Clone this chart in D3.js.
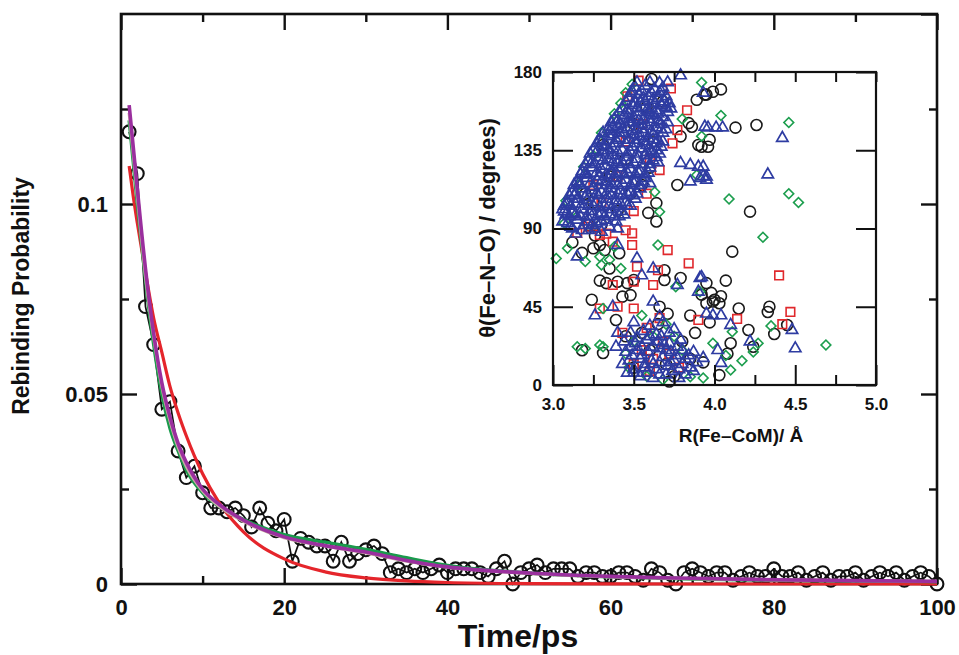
<!DOCTYPE html>
<html><head><meta charset="utf-8">
<script src="https://cdn.jsdelivr.net/npm/d3@7/dist/d3.min.js"></script>
<style>
body{margin:0;background:#fff}
svg{display:block}
text{font-family:"Liberation Sans",Arial,Helvetica,sans-serif;font-weight:bold;fill:#111}
</style></head>
<body><svg id="chart" width="959" height="655"></svg>
<script>
// ---------- main plot data ----------
const timePs = [1,2,3,4,5,6,7,8,9,10,11,12,13,14,15,16,17,18,19,20,21,22,23,24,25,26,27,28,29,30,31,32,33,34,35,36,37,38,39,40,41,42,43,44,45,46,47,48,49,50,51,52,53,54,55,56,57,58,59,60,61,62,63,64,65,66,67,68,69,70,71,72,73,74,75,76,77,78,79,80,81,82,83,84,85,86,87,88,89,90,91,92,93,94,95,96,97,98,99,100];
const rebinding = [0.119,0.108,0.073,0.063,0.046,0.048,0.035,0.028,0.031,0.024,0.020,0.020,0.019,0.020,0.018,0.015,0.020,0.016,0.014,0.017,0.006,0.012,0.011,0.010,0.010,0.006,0.011,0.006,0.008,0.009,0.010,0.008,0.003,0.004,0.003,0.004,0.003,0.004,0.005,0.003,0.004,0.004,0.004,0.003,0.002,0.004,0.006,0.000,0.003,0.004,0.005,0.003,0.004,0.004,0.004,0.002,0.003,0.003,0.002,0.002,0.003,0.003,0.002,0.001,0.004,0.003,0.001,0.000,0.003,0.004,0.003,0.002,0.003,0.003,0.001,0.002,0.003,0.002,0.002,0.004,0.002,0.002,0.003,0.001,0.002,0.003,0.001,0.002,0.002,0.003,0.001,0.002,0.003,0.002,0.003,0.001,0.002,0.003,0.002,0.000];
const fitT      = [1,1.5,2,3,4,5,6,7,8,10,12,15,20,25,30,35,40,50,60,70,80,90,100];
const fitRed    = [0.110,0.102,0.095,0.082,0.070,0.061,0.052,0.045,0.039,0.029,0.0215,0.0137,0.0066,0.0032,0.0016,0.0008,0.0004,0.0001,0.00003,0,0,0,0];
const fitGreen  = [0.122,0.111,0.100,0.080,0.063,0.050,0.041,0.035,0.030,0.0240,0.0205,0.0170,0.0130,0.0110,0.0091,0.0069,0.0049,0.0029,0.0019,0.0013,0.0010,0.0008,0.0006];
const fitTan    = [0.124,0.113,0.102,0.081,0.065,0.052,0.043,0.036,0.031,0.0245,0.0205,0.0165,0.0122,0.0100,0.0082,0.0060,0.0044,0.0028,0.0019,0.0014,0.0011,0.0009,0.0007];
const fitPurple = [0.126,0.115,0.104,0.083,0.066,0.053,0.044,0.037,0.032,0.0250,0.0210,0.0168,0.0124,0.0101,0.0084,0.0062,0.0045,0.0029,0.0020,0.0015,0.0011,0.0009,0.0007];
const xMajor = [0,20,40,60,80,100], xMinor = [10,30,50,70,90];
const yMajor = [0,0.05,0.1,0.15], yMinor = [0.025,0.075,0.125];

// ---------- inset data: [R(Fe-CoM) Å, θ(Fe-N-O) degrees] ----------
const blackCircles = [[4.04,170],[3.95,167],[3.99,168.6],[3.89,164],[3.94,167],[3.68,163],[3.61,176],[3.84,150.6],[3.86,148.5],[4.13,148],[4.26,149.5],[3.97,141],[3.92,137],[3.79,143],[3.90,138],[3.96,137],[3.77,115],[3.64,104.6],[3.64,94],[3.59,99],[4.22,99.7],[4.11,76.7],[3.31,138],
 [3.35,120],[3.45,130],[3.50,150],[3.25,105],[3.55,115],[3.40,100],[3.20,110],[3.60,125],[3.62,140],[3.58,160],[3.48,110],[3.30,92],
 [3.25,78.6],[3.29,80.5],[3.32,77.6],[3.22,92],[3.26,86],[3.41,75.8],[3.35,67],[3.69,66],[3.79,61.5],[3.69,60.4],[3.29,60],[3.33,58.6],[3.40,59.4],[3.46,58.6],[3.50,60.4],[3.24,49],[3.43,50.8],[3.48,51.7],[3.39,37.4],[3.66,45],[3.71,41],[3.95,47],[3.99,48],[4.07,60],[3.95,58.6],[4.00,49],[4.04,51],[4.03,47],[4.15,44],[4.34,45],[4.33,42],[4.45,34.5],[3.97,36],[4.21,31.6],[4.37,29.3],[4.24,22],[4.10,24],[4.08,18],[4.03,5.7],[3.93,13],[3.72,2],[3.31,18.4],[3.18,20],[3.12,82],[3.18,76],[3.92,52],[3.98,53],[3.85,40],
 [3.55,30],[3.60,20],[3.70,12],[3.80,25],[3.50,10],[3.65,35],[3.85,15],[3.75,5],[3.45,28],[3.88,30]];
const redSquares = [[3.53,175],[3.46,166],[3.73,170.5],[3.83,158],[3.74,139],[3.77,146.6],[3.66,123.6],[3.60,130],[3.55,150],[3.40,120],[3.30,105],[3.50,100],[3.25,115],[3.45,140],[3.58,110],
 [3.15,87.4],[3.22,91],[3.29,86.3],[3.33,87],[3.37,82.4],[3.45,89],[3.49,87.2],[3.49,80.5],[3.71,77.6],[3.84,70],[3.52,68],[3.65,66],[3.37,57.5],[3.50,59.4],[3.62,57.5],[3.29,44],[3.40,45],[3.50,44],[3.66,38.5],[3.90,37.4],[3.43,30],[3.58,32.8],[4.40,63],[4.47,42],[4.14,38],[4.42,35],
 [3.55,20],[3.62,15],[3.68,25],[3.50,12],[3.72,18],[3.60,8],[3.78,10]];
const greenDiamonds = [[3.49,173],[3.92,174],[3.80,153],[3.92,143],[3.89,120.8],[4.04,155],[4.46,151],[4.09,107],[4.46,110],[4.52,105],[4.30,85],[3.63,111],[3.66,99.6],[3.08,106],[3.16,115],[3.19,125.5],[3.38,156],[3.07,93],[3.12,100],[3.25,132],[3.30,145],[3.42,162],[3.45,168],
 [3.02,72.8],[3.09,78.6],[3.20,71],[3.29,73.8],[3.38,79.5],[3.35,72],[3.30,69],[3.65,80.5],[3.42,67],[3.76,56.5],[3.91,53.6],[3.31,44],[3.55,40],[3.62,28],[3.70,35],
 [4.11,30.6],[4.35,34],[4.69,23],[4.27,24],[4.24,19],[3.99,24],[4.07,17],[4.17,14],[4.10,8.6],[3.93,4],[3.85,4.8],
 [3.31,22],[3.29,23],[3.20,21],[3.15,22],[3.45,18],[3.50,25],[3.58,5],[3.68,3],[3.80,20],[3.75,28],[3.47,10]];
const blueTriangles = [[3.79,178],[3.66,173.6],[3.71,174],[3.93,168],[3.96,148],[4.01,148],[4.05,148],[3.94,148.5],[4.42,142],[3.93,125.5],[3.93,120],[3.95,118],[4.33,121],[3.79,127.6],[3.85,126.5],[3.90,125.5],[3.91,119],[3.85,117],[3.95,119.8],[3.37,148.5],[3.07,99.7],[3.06,94],
 [3.15,73.8],[3.40,80.5],[3.52,72.8],[3.62,67],[3.55,63],[3.91,61.5],[3.90,53.6],[3.77,57.5],[3.37,45],[3.26,40],[3.62,47.9],[3.66,39.3],[3.92,62],[3.95,41],[3.99,40],[4.04,40],[4.10,34.5],[4.48,31.6],[4.50,21],[4.22,25],[4.02,20],[4.04,12.6],[3.93,15.5],[3.39,22],[3.50,7],
 [3.51,171],[3.57,172],[3.63,170],[3.68,171],
 [3.47,165],[3.53,167],[3.59,166],[3.65,165],[3.70,166],
 [3.43,159],[3.49,161],[3.55,160],[3.61,159],[3.67,161],[3.73,159],
 [3.38,153],[3.44,155],[3.50,154],[3.56,153],[3.62,155],[3.68,154],
 [3.34,147],[3.40,149],[3.46,148],[3.52,147],[3.58,149],[3.64,148],[3.70,147],
 [3.29,141],[3.35,143],[3.41,142],[3.47,141],[3.53,143],[3.59,142],[3.65,141],
 [3.25,135],[3.31,137],[3.37,136],[3.43,135],[3.49,137],[3.55,136],[3.61,135],[3.67,137],
 [3.22,129],[3.28,131],[3.34,130],[3.40,129],[3.46,131],[3.52,130],[3.58,129],[3.64,131],
 [3.18,123],[3.24,125],[3.30,124],[3.36,123],[3.42,125],[3.48,124],[3.54,123],[3.60,125],
 [3.15,117],[3.21,119],[3.27,118],[3.33,117],[3.39,119],[3.45,118],[3.51,117],[3.57,119],
 [3.12,111],[3.18,113],[3.24,112],[3.30,111],[3.36,113],[3.42,112],[3.48,111],[3.54,113],
 [3.09,105],[3.15,107],[3.21,106],[3.27,105],[3.33,107],[3.39,106],[3.45,105],[3.51,107],
 [3.06,101],[3.12,99],[3.18,101],[3.24,100],[3.30,99],[3.36,101],[3.42,100],
 [3.09,93],[3.15,95],[3.21,94],[3.27,93],[3.33,95],[3.39,94],
 [3.14,87],[3.22,89],[3.30,88],[3.40,90],
 [3.54,163],[3.60,156],[3.47,151],[3.41,145],[3.56,145],[3.38,139],[3.52,139],[3.31,133],[3.46,133],[3.61,133],[3.26,127],[3.40,127],[3.55,127],[3.21,121],[3.36,121],[3.51,121],[3.17,115],[3.33,115],[3.48,115],[3.13,109],[3.28,109],[3.43,109],[3.11,103],[3.25,103],[3.39,103],[3.17,97],[3.32,97],
 [3.49,169],[3.55,169],[3.61,168],[3.67,169],
 [3.45,163],[3.51,162],[3.57,163],[3.63,162],[3.69,163],
 [3.41,157],[3.47,156],[3.53,157],[3.59,157],[3.65,156],[3.71,157],
 [3.36,151],[3.42,150],[3.49,151],[3.55,150],[3.61,151],[3.67,150],
 [3.31,145],[3.37,144],[3.44,145],[3.50,144],[3.62,144],[3.68,145],
 [3.27,139],[3.33,138],[3.45,139],[3.58,138],[3.64,139],
 [3.23,133],[3.37,132],[3.52,133],[3.57,132],[3.66,133],
 [3.20,127],[3.33,126],[3.47,127],[3.60,127],[3.65,128],
 [3.17,121],[3.29,120],[3.44,121],[3.57,121],
 [3.13,115],[3.25,114],[3.40,115],[3.54,115],[3.60,116],
 [3.10,109],[3.20,108],[3.36,109],[3.50,109],
 [3.07,103],[3.18,104],[3.32,103],[3.46,103],
 [3.10,97],[3.24,97],[3.38,97],[3.44,98],
 [3.11,91],[3.19,92],[3.26,90],[3.35,91],
 [3.52,174],[3.60,174],[3.66,168],
 [3.48,168],[3.56,165],[3.62,164],[3.72,162],
 [3.46,158],[3.52,159],[3.58,158],[3.64,158],[3.70,160],
 [3.40,152],[3.47,153],[3.53,152],[3.59,153],[3.65,152],[3.71,151],
 [3.35,146],[3.43,147],[3.49,146],[3.55,147],[3.61,146],[3.67,147],
 [3.30,140],[3.39,141],[3.50,141],[3.56,140],[3.62,141],[3.68,140],
 [3.27,134],[3.34,135],[3.40,134],[3.48,134],[3.58,134],[3.64,135],
 [3.24,128],[3.31,129],[3.37,128],[3.43,128],[3.50,128],[3.62,129],
 [3.20,122],[3.27,122],[3.33,121],[3.39,122],[3.46,122],[3.53,122],[3.59,122],
 [3.16,116],[3.23,116],[3.30,117],[3.36,116],[3.43,116],[3.50,116],[3.56,117],
 [3.14,110],[3.21,110],[3.27,110],[3.33,110],[3.40,110],[3.46,110],[3.52,110],
 [3.08,104],[3.14,104],[3.22,103],[3.29,102],[3.35,104],[3.42,104],[3.48,103],
 [3.08,98],[3.14,98],[3.21,97],[3.28,98],[3.35,98],[3.41,97],
 [3.12,90],[3.18,89],[3.24,92],[3.30,94],
 [3.48,30],[3.56,31],[3.64,29],[3.72,30],
 [3.44,25],[3.51,24],[3.58,26],[3.65,25],[3.72,24],[3.79,26],
 [3.45,19],[3.52,20],[3.59,19],[3.66,21],[3.73,19],[3.80,20],[3.87,19],
 [3.47,14],[3.54,15],[3.61,14],[3.68,16],[3.75,14],[3.82,15],[3.89,13],
 [3.50,9],[3.57,10],[3.64,9],[3.71,11],[3.78,9],[3.85,10],
 [3.54,5],[3.62,4],[3.70,6],[3.78,4],
 [3.55,22],[3.62,12],[3.69,23],[3.76,17],[3.60,34],[3.68,36],[3.50,36],[3.40,30],[3.43,12],
 [3.48,22],[3.55,17],[3.62,22],[3.70,20],[3.77,22],[3.84,17],[3.49,17],[3.57,12],[3.66,13],[3.73,13],[3.80,12],[3.87,8],[3.52,27],[3.60,28],[3.67,28],[3.75,32],[3.58,7],[3.66,6],[3.74,8],[3.82,6],[3.46,7]];
const insetXMajor = [3.0,3.5,4.0,4.5,5.0], insetXMinor = [3.25,3.75,4.25,4.75];
const insetYMajor = [0,45,90,135,180];

// ---------- drawing ----------
const svg = d3.select("#chart");
svg.append("rect").attr("width",959).attr("height",655).attr("fill","#fff");
const P = {l:121, r:937, t:14, b:584};
const x = d3.scaleLinear().domain([0,100]).range([P.l,P.r]);
const y = d3.scaleLinear().domain([0,0.15]).range([P.b,P.t]);

function styleAxis(g, fs, sw){
  g.select(".domain").remove();
  g.selectAll(".tick line").attr("stroke","#111").attr("stroke-width",sw||2.4);
  g.selectAll(".tick text").style("font-size",fs+"px").style("font-family",'"Liberation Sans",Arial,sans-serif').style("font-weight","bold").attr("fill","#111");
}
// bottom
svg.append("g").attr("transform",`translate(0,${P.b})`)
  .call(d3.axisBottom(x).tickValues(xMajor).tickSize(-16).tickPadding(15).tickFormat(d3.format("d"))).call(g=>styleAxis(g,22));
svg.append("g").attr("transform",`translate(0,${P.b})`)
  .call(d3.axisBottom(x).tickValues(xMinor).tickSize(-8).tickFormat("")).call(g=>styleAxis(g,22));
// top
svg.append("g").attr("transform",`translate(0,${P.t})`)
  .call(d3.axisTop(x).tickValues(xMajor).tickSize(-16).tickFormat("")).call(g=>styleAxis(g,22));
svg.append("g").attr("transform",`translate(0,${P.t})`)
  .call(d3.axisTop(x).tickValues(xMinor).tickSize(-8).tickFormat("")).call(g=>styleAxis(g,22));
// left
svg.append("g").attr("transform",`translate(${P.l},0)`)
  .call(d3.axisLeft(y).tickValues(yMajor.slice(0,3)).tickSize(-16).tickPadding(13).tickFormat(d=>String(d))).call(g=>styleAxis(g,22));
svg.append("g").attr("transform",`translate(${P.l},0)`)
  .call(d3.axisLeft(y).tickValues(yMinor).tickSize(-8).tickFormat("")).call(g=>styleAxis(g,22));
// right
svg.append("g").attr("transform",`translate(${P.r},0)`)
  .call(d3.axisRight(y).tickValues(yMajor).tickSize(-16).tickFormat("")).call(g=>styleAxis(g,22));
svg.append("g").attr("transform",`translate(${P.r},0)`)
  .call(d3.axisRight(y).tickValues(yMinor).tickSize(-8).tickFormat("")).call(g=>styleAxis(g,22));
// frame
svg.append("rect").attr("x",P.l).attr("y",P.t).attr("width",P.r-P.l).attr("height",P.b-P.t)
  .attr("fill","none").attr("stroke","#111").attr("stroke-width",2.6);

// data line + circles
const pts = timePs.map((t,i)=>[t,rebinding[i]]);
svg.append("path").datum(pts).attr("fill","none").attr("stroke","#111").attr("stroke-width",1.7)
  .attr("d",d3.line().x(d=>x(d[0])).y(d=>y(d[1])));
svg.append("g").selectAll("circle").data(pts).join("circle")
  .attr("cx",d=>x(d[0])).attr("cy",d=>y(d[1])).attr("r",6.4)
  .attr("fill","none").attr("stroke","#111").attr("stroke-width",2.1);

// fit curves
const fitLine = d3.line().x(d=>x(d[0])).y(d=>y(d[1])).curve(d3.curveMonotoneX);
[[fitRed,"#e5252b",3.2],[fitGreen,"#1a9a4c",3.4],[fitTan,"#c8aca4",3.2],[fitPurple,"#9a2f9e",3.6]].forEach(([vals,col,w])=>{
  svg.append("path").datum(fitT.map((t,i)=>[t,vals[i]])).attr("fill","none")
    .attr("stroke",col).attr("stroke-width",w).attr("d",fitLine);
});

// axis titles
svg.append("text").attr("x",518).attr("y",647).attr("text-anchor","middle").style("font-size","32px").text("Time/ps");
svg.append("text").attr("transform","translate(29,296) rotate(-90)").attr("text-anchor","middle").style("font-size","23px").text("Rebinding Probability");

// ---------- inset ----------
const I = {l:553, r:876, t:72, b:385};
const xi = d3.scaleLinear().domain([3,5]).range([I.l,I.r]);
const yi = d3.scaleLinear().domain([0,180]).range([I.b,I.t]);
svg.append("rect").attr("x",I.l).attr("y",I.t).attr("width",I.r-I.l).attr("height",I.b-I.t).attr("fill","#fff");

const ins = svg.append("g");
ins.append("g").selectAll("circle").data(blackCircles).join("circle")
  .attr("cx",d=>xi(d[0])).attr("cy",d=>yi(d[1])).attr("r",5.5)
  .attr("fill","none").attr("stroke","#1a1a1a").attr("stroke-width",1.6);
ins.append("g").selectAll("path").data(redSquares).join("path")
  .attr("transform",d=>`translate(${xi(d[0])},${yi(d[1])})`)
  .attr("d",d3.symbol(d3.symbolSquare,74)).attr("fill","none").attr("stroke","#e0282c").attr("stroke-width",1.6);
ins.append("g").selectAll("path").data(greenDiamonds).join("path")
  .attr("transform",d=>`translate(${xi(d[0])},${yi(d[1])}) rotate(45)`)
  .attr("d",d3.symbol(d3.symbolSquare,48)).attr("fill","none").attr("stroke","#1c9e4e").attr("stroke-width",1.6);
ins.append("g").selectAll("path").data(blueTriangles).join("path")
  .attr("transform",d=>`translate(${xi(d[0])},${yi(d[1])})`)
  .attr("d",d3.symbol(d3.symbolTriangle,56)).attr("fill","none").attr("stroke","#2e3ca2").attr("stroke-width",1.7);

// inset axes
svg.append("g").attr("transform",`translate(0,${I.b})`)
  .call(d3.axisBottom(xi).tickValues(insetXMajor).tickSize(-20).tickPadding(13).tickFormat(d3.format(".1f"))).call(g=>styleAxis(g,17,2));
svg.append("g").attr("transform",`translate(0,${I.b})`)
  .call(d3.axisBottom(xi).tickValues(insetXMinor).tickSize(-10).tickFormat("")).call(g=>styleAxis(g,17,2));
svg.append("g").attr("transform",`translate(0,${I.t})`)
  .call(d3.axisTop(xi).tickValues(insetXMajor.concat(insetXMinor)).tickSize(-10).tickFormat("")).call(g=>styleAxis(g,17,2));
svg.append("g").attr("transform",`translate(${I.l},0)`)
  .call(d3.axisLeft(yi).tickValues(insetYMajor).tickSize(-20).tickPadding(11).tickFormat(d3.format("d"))).call(g=>styleAxis(g,17,2));
svg.append("g").attr("transform",`translate(${I.r},0)`)
  .call(d3.axisRight(yi).tickValues(insetYMajor).tickSize(-20).tickFormat("")).call(g=>styleAxis(g,17,2));
svg.append("rect").attr("x",I.l).attr("y",I.t).attr("width",I.r-I.l).attr("height",I.b-I.t)
  .attr("fill","none").attr("stroke","#111").attr("stroke-width",2.2);

svg.append("text").attr("x",741).attr("y",442).attr("text-anchor","middle").style("font-size","19px").text("R(Fe\u2013CoM)/ \u00C5");
svg.append("text").attr("transform","translate(495,228) rotate(-90)").attr("text-anchor","middle").style("font-size","22px").text("\u03B8(Fe\u2013N\u2013O) / degrees)");
</script>
</body></html>
